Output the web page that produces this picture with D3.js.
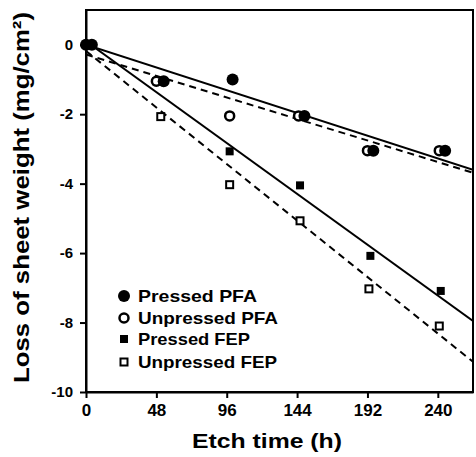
<!DOCTYPE html>
<html><head><meta charset="utf-8">
<script src="https://cdn.jsdelivr.net/npm/d3@7"></script>
<style>body{margin:0;background:#fff}text{font-family:"Liberation Sans",Arial,sans-serif;font-weight:bold;fill:#000}</style>
</head><body><svg id="c" width="476" height="457"></svg>
<script>
// Data (etch time in h, loss in mg/cm²)
const pressedPFA   = [[0,0],[4,0],[53,-1.05],[100,-1.0],[149,-2.05],[196,-3.05],[245,-3.05]];
const unpressedPFA = [[48,-1.05],[98,-2.05],[145,-2.05],[192,-3.05],[241,-3.05]];
const pressedFEP   = [[0,0],[48,-1.05],[98,-3.07],[146,-4.05],[194,-6.08],[242,-7.09]];
const unpressedFEP = [[51,-2.07],[98,-4.03],[146,-5.07],[193,-7.03],[241,-8.1]];
// fitted lines: [intercept, slope per h]
const fitPressedPFA   = [0.0, -0.01364];
const fitUnpressedPFA = [-0.28, -0.0129];
const fitPressedFEP   = [0.1, -0.0305];
const fitUnpressedFEP = [-0.18, -0.0339];
const xTicks = [0,48,96,144,192,240];
const yTicks = [0,-2,-4,-6,-8,-10];
const legendLabels = ["Pressed PFA","Unpressed PFA","Pressed FEP","Unpressed FEP"];

const svg = d3.select("#c");
const x = d3.scaleLinear().domain([0,264]).range([86,473]);
const y = d3.scaleLinear().domain([-10,1]).range([392,10]);

svg.append("rect").attr("x",x(0)).attr("y",y(1)).attr("width",x(264)-x(0)).attr("height",y(-10)-y(1))
  .attr("fill","none").attr("stroke","#000").attr("stroke-width",2);

const xa = svg.append("g").attr("transform",`translate(0,${y(-10)})`)
  .call(d3.axisBottom(x).tickValues(xTicks).tickSize(6).tickSizeOuter(0).tickPadding(6).tickFormat(d3.format("d")));
const ya = svg.append("g").attr("transform",`translate(${x(0)},0)`)
  .call(d3.axisLeft(y).tickValues(yTicks).tickSize(6).tickSizeOuter(0).tickPadding(7).tickFormat(d=>d===0?"0":String(d)));
[xa,ya].forEach(a=>{
  a.select(".domain").attr("stroke-width",2);
  a.selectAll(".tick line").attr("stroke-width",2);
  a.selectAll(".tick text").style("font-size","15px").style("font-family","'Liberation Sans',Arial,sans-serif").style("font-weight","bold");
});
xa.selectAll(".tick text").style("font-size","17px");

svg.append("clipPath").attr("id","pc").append("rect")
  .attr("x",x(0)).attr("y",y(1)).attr("width",x(264)-x(0)).attr("height",y(-10)-y(1));

const g = svg.append("g").attr("clip-path","url(#pc)");
function fitLine(f,dash){
  const pts=[0,264].map(t=>[t,f[0]+f[1]*t]);
  g.append("path").attr("d",d3.line().x(d=>x(d[0])).y(d=>y(d[1]))(pts))
   .attr("fill","none").attr("stroke","#000").attr("stroke-width",2)
   .attr("stroke-dasharray",dash?"7,5":null);
}
fitLine(fitPressedPFA,false);
fitLine(fitUnpressedPFA,true);
fitLine(fitPressedFEP,false);
fitLine(fitUnpressedFEP,true);

const m = svg.append("g");
function circle(sel,cx,cy,filled){
  sel.append("circle").attr("cx",cx).attr("cy",cy).attr("r",filled?6:4.5)
    .attr("fill",filled?"#000":"#fff").attr("stroke","#000").attr("stroke-width",filled?0:2.5);
}
function square(sel,cx,cy,filled){
  const s=filled?8:7;
  sel.append("rect").attr("x",cx-s/2).attr("y",cy-s/2).attr("width",s).attr("height",s)
    .attr("fill",filled?"#000":"#fff").attr("stroke","#000").attr("stroke-width",filled?0:2);
}
unpressedFEP.forEach(d=>square(m,x(d[0]),y(d[1]),false));
pressedFEP.forEach(d=>square(m,x(d[0]),y(d[1]),true));
unpressedPFA.forEach(d=>circle(m,x(d[0]),y(d[1]),false));
pressedPFA.forEach(d=>circle(m,x(d[0]),y(d[1]),true));

// legend
const lg = svg.append("g");
const shapes=[(s,cx,cy)=>circle(s,cx,cy,true),(s,cx,cy)=>circle(s,cx,cy,false),(s,cx,cy)=>square(s,cx,cy,true),(s,cx,cy)=>square(s,cx,cy,false)];
const legendWidths=[119,140,112,139];
const legendBase=[302,324,345,368];
legendLabels.forEach((t,i)=>{
  const b=legendBase[i];
  shapes[i](lg,124,b-6);
  lg.append("text").attr("x",138).attr("y",b).style("font-size","17px")
    .attr("textLength",legendWidths[i]).attr("lengthAdjust","spacingAndGlyphs").text(t);
});

// axis titles
svg.append("text").attr("x",192).attr("y",448)
  .style("font-size","21px").attr("textLength",150).attr("lengthAdjust","spacingAndGlyphs").text("Etch time (h)");
svg.append("text").attr("transform","translate(29,383) rotate(-90)")
  .style("font-size","22px").attr("textLength",371).attr("lengthAdjust","spacingAndGlyphs").text("Loss of sheet weight (mg/cm²)");
</script></body></html>
